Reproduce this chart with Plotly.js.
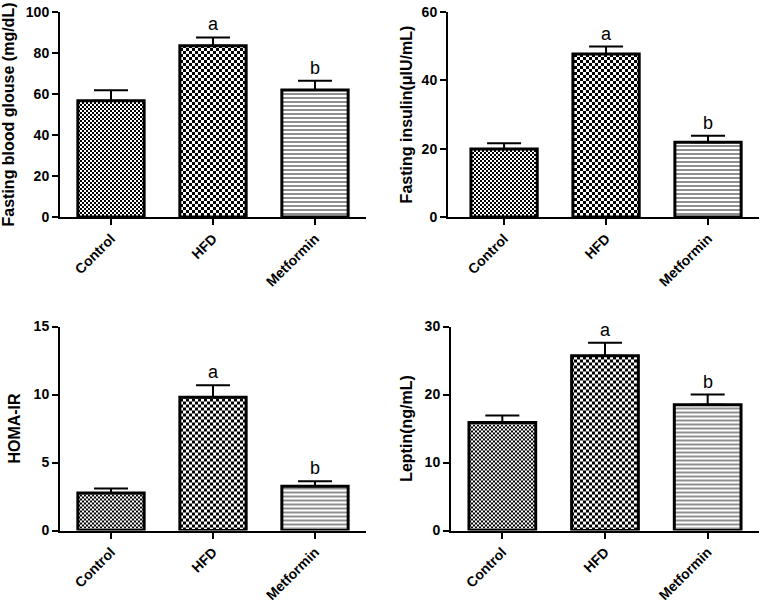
<!DOCTYPE html>
<html>
<head>
<meta charset="utf-8">
<script src="https://cdn.plot.ly/plotly-3.0.1.min.js"></script>
<style>
  html, body { margin: 0; padding: 0; background: #fff; }
  #chart { width: 761px; height: 605px; }
</style>
</head>
<body>
<div id="chart"></div>
<script>
// ---- data ----
const categories = ['Control', 'HFD', 'Metformin'];
const glucoseMean = [56.7, 83.5, 61.9];
const glucoseSEM  = [5.1, 4.1, 4.6];
const insulinMean = [19.9, 47.7, 21.9];
const insulinSEM  = [1.7, 2.2, 1.9];
const homaMean    = [2.75, 9.8, 3.25];
const homaSEM     = [0.33, 0.88, 0.37];
const leptinMean  = [15.9, 25.7, 18.5];
const leptinSEM   = [1.0, 1.9, 1.5];
const letters     = ['', 'a', 'b'];
const yTitles = ['Fasting blood glouse (mg/dL)', 'Fasting insulin(μIU/mL)', 'HOMA-IR', 'Leptin(ng/mL)'];
const yMax   = [100, 60, 15, 30];
const yStep  = [20, 20, 5, 10];

// ---- styles ----
const FONT = 'Liberation Sans, Arial, sans-serif';
const panels = [
  {mean: glucoseMean, sem: glucoseSEM, xd: [60, 366], yd: [12, 217], xr: [-0.5, 2.5], standoff: 9},
  {mean: insulinMean, sem: insulinSEM, xd: [448, 759], yd: [12, 217], xr: [-0.55, 2.5], standoff: 5},
  {mean: homaMean,    sem: homaSEM,    xd: [60, 366], yd: [326.5, 530.5], xr: [-0.5, 2.5], standoff: 9},
  {mean: leptinMean,  sem: leptinSEM,  xd: [451, 759], yd: [326.5, 530.5], xr: [-0.5, 2.5], standoff: 8}
];
const W = 761, H = 605;
const checkerCells = [2, 3, null];

const data = [];
const annotations = [];
const layout = {
  width: W, height: H,
  margin: {l: 0, r: 0, t: 0, b: 0},
  paper_bgcolor: '#fff', plot_bgcolor: '#fff',
  showlegend: false,
  font: {family: FONT, color: '#000'},
  annotations: annotations
};

panels.forEach(function (p, k) {
  const sfx = k === 0 ? '' : String(k + 1);
  const xa = 'x' + sfx, ya = 'y' + sfx;
  data.push({
    type: 'bar',
    x: categories,
    y: p.mean,
    xaxis: xa, yaxis: ya,
    width: 0.65,
    marker: {
      color: '#fff',
      line: {color: '#000', width: 3},
      pattern: {
        shape: ['x', 'x', '-'],
        size: [4, 6, 4],
        solidity: [0.5, 0.5, 0.3],
        fgcolor: ['#000', '#000', '#444'],
        bgcolor: '#fff',
        fillmode: 'replace'
      }
    },
    error_y: {
      type: 'data', symmetric: false,
      array: p.sem, arrayminus: p.sem.map(function () { return 0; }),
      color: '#000', thickness: 2, width: 17
    },
    hoverinfo: 'none'
  });
  layout['xaxis' + sfx] = {
    domain: [p.xd[0] / W, p.xd[1] / W],
    anchor: ya,
    range: p.xr,
    showline: true, linecolor: '#000', linewidth: 2,
    ticks: 'outside', ticklen: 6, tickwidth: 2, tickcolor: '#000',
    tickangle: -45,
    tickfont: {family: FONT, size: 14, color: '#000', weight: 'bold'},
    showgrid: false, zeroline: false, fixedrange: true
  };
  layout['yaxis' + sfx] = {
    domain: [1 - p.yd[1] / H, 1 - p.yd[0] / H],
    anchor: xa,
    range: [0, yMax[k]],
    dtick: yStep[k], tick0: 0,
    showline: true, linecolor: '#000', linewidth: 2,
    ticks: 'outside', ticklen: 6, tickwidth: 2, tickcolor: '#000',
    tickfont: {family: FONT, size: 14, color: '#000', weight: 'bold'},
    title: {text: yTitles[k], standoff: p.standoff, font: {family: FONT, size: 16, color: '#000', weight: 'bold'}},
    showgrid: false, zeroline: false, fixedrange: true
  };
  letters.forEach(function (t, i) {
    if (!t) return;
    annotations.push({
      xref: xa, yref: ya,
      x: categories[i], y: p.mean[i] + p.sem[i],
      text: t, showarrow: false,
      xanchor: 'center', yanchor: 'bottom', yshift: 1,
      font: {family: FONT, size: 18, color: '#000'}
    });
  });
});

function makeChecker(pat, cell) {
  const ns = 'http://www.w3.org/2000/svg';
  while (pat.firstChild) pat.removeChild(pat.firstChild);
  const t = 2 * cell;
  pat.setAttribute('width', t);
  pat.setAttribute('height', t);
  pat.setAttribute('patternUnits', 'userSpaceOnUse');
  pat.removeAttribute('patternTransform');
  [[0, 0, t, t, '#fff'], [0, 0, cell, cell, '#000'], [cell, cell, cell, cell, '#000']].forEach(function (r) {
    const el = document.createElementNS(ns, 'rect');
    el.setAttribute('x', r[0]); el.setAttribute('y', r[1]);
    el.setAttribute('width', r[2]); el.setAttribute('height', r[3]);
    el.setAttribute('fill', r[4]);
    el.setAttribute('shape-rendering', 'crispEdges');
    pat.appendChild(el);
  });
}

Plotly.newPlot('chart', data, layout, {staticPlot: true, displayModeBar: false}).then(function (gd) {
  try {
    gd.querySelectorAll('g.trace.bars').forEach(function (tr) {
      tr.querySelectorAll('g.point').forEach(function (pt, i) {
        const cell = checkerCells[i];
        if (!cell) return;
        const path = pt.querySelector('path');
        if (!path) return;
        const fill = path.style.fill || path.getAttribute('fill') || '';
        const m = fill.match(/#([^'")]+)/);
        if (!m) return;
        const pat = document.getElementById(m[1]);
        if (pat) makeChecker(pat, cell);
      });
    });
  } catch (e) { /* keep native pattern */ }
});
</script>
</body>
</html>
